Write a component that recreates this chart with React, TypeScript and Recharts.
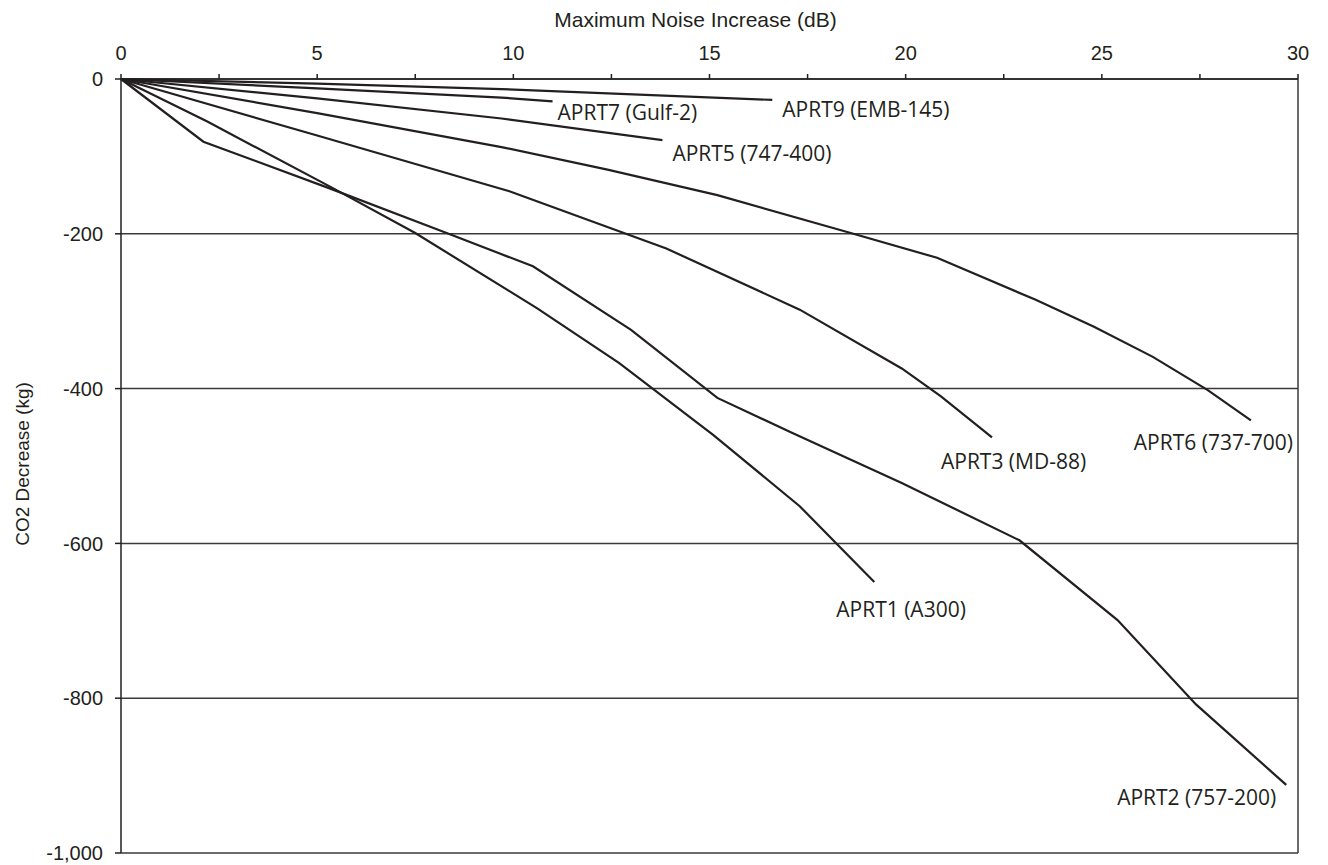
import React from "react";
import {
  CartesianGrid,
  Label,
  Line,
  LineChart,
  ReferenceLine,
  XAxis,
  YAxis,
} from "recharts";

// tick values
const noiseTicks = [0, 2.5, 5, 7.5, 10, 12.5, 15, 17.5, 20, 22.5, 25, 27.5, 30];
const co2Ticks = [0, -200, -400, -600, -800, -1000];

// values (x = max noise increase dB, y = CO2 decrease kg)
const aprt1Noise = [0, 2.2, 5.4, 7.5, 10.6, 12.7, 15.1, 17.3, 19.2];
const aprt1Co2 = [0, -55, -141, -199, -296, -367, -460, -552, -650];

const aprt2Noise = [0, 2.1, 5.3, 8.3, 10.5, 13.0, 15.2, 17.1, 19.9, 22.9, 25.4, 27.4, 29.7];
const aprt2Co2 = [0, -81, -141, -199, -242, -324, -412, -457, -522, -596, -699, -808, -912];

const aprt3Noise = [0, 5.0, 9.9, 13.9, 17.3, 19.9, 20.9, 22.2];
const aprt3Co2 = [0, -73, -145, -219, -298, -374, -410, -463];

const aprt5Noise = [0, 5.0, 9.7, 13.8];
const aprt5Co2 = [0, -25, -51, -79];

const aprt6Noise = [0, 5.0, 9.7, 12.4, 15.2, 18.6, 20.8, 23.3, 24.8, 26.3, 27.7, 28.8];
const aprt6Co2 = [0, -44, -88, -117, -150, -199, -231, -285, -320, -359, -402, -441];

const aprt7Noise = [0, 5.0, 9.7, 11.0];
const aprt7Co2 = [0, -12, -24, -29];

const aprt9Noise = [0, 5.0, 9.7, 16.6];
const aprt9Co2 = [0, -6, -13, -27];

const toPoints = (noise: number[], co2: number[]) =>
  noise.map((n, i) => ({ noise: n, co2: co2[i] }));

const INK = "#231f20";
const AXIS_FONT = "'Liberation Sans', Arial, sans-serif";
const LABEL_FONT = "'Open Sans', 'Noto Sans', sans-serif";

// end-of-line label placement (offset from last point)
const series = [
  { key: "aprt1", name: "APRT1 (A300)", data: toPoints(aprt1Noise, aprt1Co2), dx: -38, dy: 28, anchor: "start" },
  { key: "aprt2", name: "APRT2 (757-200)", data: toPoints(aprt2Noise, aprt2Co2), dx: -10, dy: 13, anchor: "end" },
  { key: "aprt3", name: "APRT3 (MD-88)", data: toPoints(aprt3Noise, aprt3Co2), dx: -51, dy: 25, anchor: "start" },
  { key: "aprt5", name: "APRT5 (747-400)", data: toPoints(aprt5Noise, aprt5Co2), dx: 10, dy: 14, anchor: "start" },
  { key: "aprt6", name: "APRT6 (737-700)", data: toPoints(aprt6Noise, aprt6Co2), dx: 42, dy: 23, anchor: "end" },
  { key: "aprt7", name: "APRT7 (Gulf-2)", data: toPoints(aprt7Noise, aprt7Co2), dx: 5, dy: 12, anchor: "start" },
  { key: "aprt9", name: "APRT9 (EMB-145)", data: toPoints(aprt9Noise, aprt9Co2), dx: 10, dy: 10, anchor: "start" },
];

const NoiseTick = ({ x, y, payload }: any) => {
  if (payload.value % 5 !== 0) return <g />;
  return (
    <text x={x} y={y - 12} textAnchor="middle" fontSize={20} fill={INK} fontFamily={AXIS_FONT}>
      {payload.value}
    </text>
  );
};

const endLabel = (s: (typeof series)[number]) => (props: any) => {
  const { cx, cy, index } = props;
  if (index !== s.data.length - 1) return <g key={`${s.key}-${index}`} />;
  return (
    <text
      key={`${s.key}-${index}`}
      x={cx + s.dx}
      y={cy + s.dy + 7}
      textAnchor={s.anchor}
      fontSize={21}
      fill={INK}
      fontFamily={LABEL_FONT}
    >
      {s.name}
    </text>
  );
};

export default function App() {
  return (
    <div style={{ position: "absolute", left: 0, top: 0, background: "#fff" }}>
      <LineChart
        width={1328}
        height={865}
        margin={{ top: 0, right: 30, bottom: 12, left: 0 }}
      >
        <CartesianGrid vertical={false} stroke="#3a3a3a" strokeWidth={1.5} />
        <XAxis
          dataKey="noise"
          type="number"
          orientation="top"
          domain={[0, 30]}
          ticks={noiseTicks}
          interval={0}
          height={79}
          tickSize={5}
          tick={<NoiseTick />}
          axisLine={{ stroke: INK, strokeWidth: 1.5 }}
          tickLine={{ stroke: INK, strokeWidth: 1.5 }}
        >
          <Label
            content={({ viewBox }: any) => (
              <text
                x={viewBox.x + viewBox.width / 2 - 14}
                y={viewBox.y + 27}
                textAnchor="middle"
                fontSize={21}
                fill={INK}
                fontFamily={AXIS_FONT}
              >
                Maximum Noise Increase (dB)
              </text>
            )}
          />
        </XAxis>
        <YAxis
          dataKey="co2"
          type="number"
          domain={[-1000, 0]}
          ticks={co2Ticks}
          interval={0}
          width={121}
          tickSize={6}
          tickMargin={12}
          tickFormatter={(v: number) => v.toLocaleString("en-US")}
          tick={{ fontSize: 20, fill: INK, fontFamily: AXIS_FONT }}
          axisLine={{ stroke: INK, strokeWidth: 1.5 }}
          tickLine={{ stroke: INK, strokeWidth: 1.5 }}
        >
          <Label
            content={({ viewBox }: any) => {
              const cx = viewBox.x + 22;
              const cy = viewBox.y + viewBox.height / 2 - 2;
              return (
                <text
                  x={cx}
                  y={cy}
                  transform={`rotate(-90, ${cx}, ${cy})`}
                  textAnchor="middle"
                  dominantBaseline="central"
                  fontSize={19}
                  fill={INK}
                  fontFamily={AXIS_FONT}
                >
                  CO2 Decrease (kg)
                </text>
              );
            }}
          />
        </YAxis>
        <ReferenceLine x={30} stroke="#3a3a3a" strokeWidth={1.5} />
        {series.map((s) => (
          <Line
            key={s.key}
            data={s.data}
            dataKey="co2"
            type="linear"
            stroke={INK}
            strokeWidth={2.2}
            dot={endLabel(s)}
            activeDot={false}
            isAnimationActive={false}
          />
        ))}
      </LineChart>
    </div>
  );
}
